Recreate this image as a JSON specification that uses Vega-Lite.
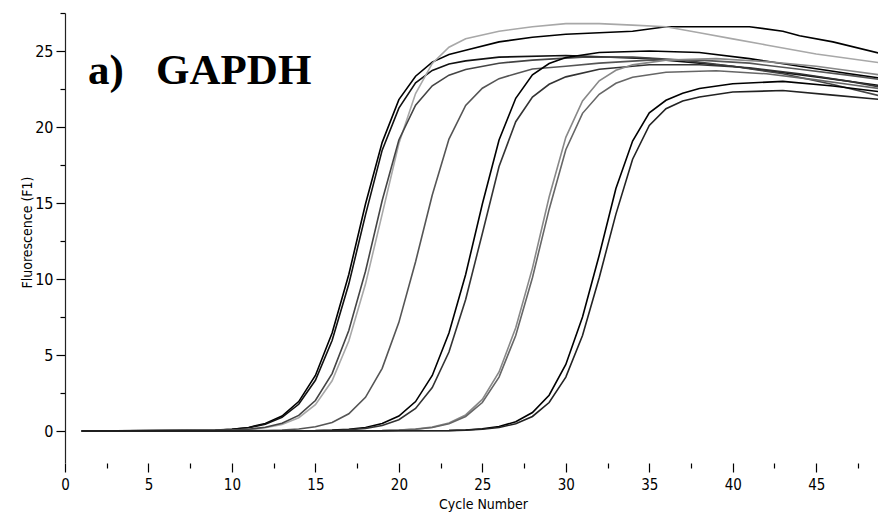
{
  "$schema": "https://vega.github.io/schema/vega-lite/v6.json",
  "width": 813,
  "height": 450,
  "autosize": {"type": "none"},
  "padding": {"left": 65, "top": 13, "right": 0, "bottom": 51},
  "background": "white",
  "config": {"view": {"stroke": null}},
  "layer": [
    {
      "data": {"values": [
        {"s":"A1","c":1,"f":0},{"s":"A1","c":9,"f":0.06},{"s":"A1","c":10,"f":0.12},{"s":"A1","c":11,"f":0.24},{"s":"A1","c":12,"f":0.5},{"s":"A1","c":13,"f":0.99},{"s":"A1","c":14,"f":1.94},{"s":"A1","c":15,"f":3.66},{"s":"A1","c":16,"f":6.45},{"s":"A1","c":17,"f":10.3},{"s":"A1","c":18,"f":14.94},{"s":"A1","c":19,"f":18.99},{"s":"A1","c":20,"f":21.8},{"s":"A1","c":21,"f":23.34},{"s":"A1","c":22,"f":24.27},{"s":"A1","c":23,"f":24.77},{"s":"A1","c":24,"f":25.05},{"s":"A1","c":26,"f":25.6},{"s":"A1","c":28,"f":25.9},{"s":"A1","c":30,"f":26.1},{"s":"A1","c":32,"f":26.2},{"s":"A1","c":34,"f":26.3},{"s":"A1","c":36,"f":26.6},{"s":"A1","c":38,"f":26.6},{"s":"A1","c":41,"f":26.6},{"s":"A1","c":43,"f":26.3},{"s":"A1","c":44,"f":26.0},{"s":"A1","c":46,"f":25.6},{"s":"A1","c":49,"f":24.8},
        {"s":"A2","c":1,"f":0},{"s":"A2","c":9,"f":0.05},{"s":"A2","c":10,"f":0.11},{"s":"A2","c":11,"f":0.22},{"s":"A2","c":12,"f":0.45},{"s":"A2","c":13,"f":0.9},{"s":"A2","c":14,"f":1.76},{"s":"A2","c":15,"f":3.34},{"s":"A2","c":16,"f":5.96},{"s":"A2","c":17,"f":9.67},{"s":"A2","c":18,"f":14.22},{"s":"A2","c":19,"f":18.48},{"s":"A2","c":20,"f":21.24},{"s":"A2","c":21,"f":22.91},{"s":"A2","c":22,"f":23.72},{"s":"A2","c":23,"f":24.14},{"s":"A2","c":24,"f":24.35},{"s":"A2","c":26,"f":24.6},{"s":"A2","c":30,"f":24.7},{"s":"A2","c":35,"f":24.5},{"s":"A2","c":40,"f":24.0},{"s":"A2","c":45,"f":23.3},{"s":"A2","c":49,"f":22.7},
        {"s":"A3","c":1,"f":0},{"s":"A3","c":10,"f":0.05},{"s":"A3","c":11,"f":0.11},{"s":"A3","c":12,"f":0.22},{"s":"A3","c":13,"f":0.44},{"s":"A3","c":14,"f":0.88},{"s":"A3","c":15,"f":1.74},{"s":"A3","c":16,"f":3.31},{"s":"A3","c":17,"f":5.92},{"s":"A3","c":18,"f":9.67},{"s":"A3","c":19,"f":14.27},{"s":"A3","c":20,"f":18.91},{"s":"A3","c":21,"f":22.2},{"s":"A3","c":22,"f":24.18},{"s":"A3","c":23,"f":25.25},{"s":"A3","c":24,"f":25.81},{"s":"A3","c":26,"f":26.3},{"s":"A3","c":28,"f":26.6},{"s":"A3","c":30,"f":26.8},{"s":"A3","c":32,"f":26.8},{"s":"A3","c":34,"f":26.7},{"s":"A3","c":36,"f":26.6},{"s":"A3","c":38,"f":26.2},{"s":"A3","c":40,"f":25.8},{"s":"A3","c":42,"f":25.4},{"s":"A3","c":45,"f":24.8},{"s":"A3","c":49,"f":24.2},
        {"s":"A4","c":1,"f":0},{"s":"A4","c":10,"f":0.06},{"s":"A4","c":11,"f":0.12},{"s":"A4","c":12,"f":0.25},{"s":"A4","c":13,"f":0.52},{"s":"A4","c":14,"f":1.03},{"s":"A4","c":15,"f":2.01},{"s":"A4","c":16,"f":3.78},{"s":"A4","c":17,"f":6.62},{"s":"A4","c":18,"f":10.51},{"s":"A4","c":19,"f":15.17},{"s":"A4","c":20,"f":19.15},{"s":"A4","c":21,"f":21.44},{"s":"A4","c":22,"f":22.71},{"s":"A4","c":23,"f":23.41},{"s":"A4","c":24,"f":23.78},{"s":"A4","c":26,"f":24.2},{"s":"A4","c":28,"f":24.4},{"s":"A4","c":31,"f":24.6},{"s":"A4","c":34,"f":24.6},{"s":"A4","c":37,"f":24.4},{"s":"A4","c":40,"f":24.0},{"s":"A4","c":43,"f":23.5},{"s":"A4","c":46,"f":22.8},{"s":"A4","c":49,"f":22.0},
        {"s":"B","c":1,"f":0},{"s":"B","c":12,"f":0.03},{"s":"B","c":13,"f":0.07},{"s":"B","c":14,"f":0.14},{"s":"B","c":15,"f":0.28},{"s":"B","c":16,"f":0.57},{"s":"B","c":17,"f":1.14},{"s":"B","c":18,"f":2.22},{"s":"B","c":19,"f":4.13},{"s":"B","c":20,"f":7.15},{"s":"B","c":21,"f":11.14},{"s":"B","c":22,"f":15.53},{"s":"B","c":23,"f":19.21},{"s":"B","c":24,"f":21.42},{"s":"B","c":25,"f":22.55},{"s":"B","c":26,"f":23.18},{"s":"B","c":27,"f":23.51},{"s":"B","c":28,"f":23.82},{"s":"B","c":30,"f":24.0},{"s":"B","c":32,"f":24.2},{"s":"B","c":35,"f":24.4},{"s":"B","c":38,"f":24.4},{"s":"B","c":41,"f":24.2},{"s":"B","c":44,"f":23.8},{"s":"B","c":47,"f":23.4},{"s":"B","c":49,"f":23.1},
        {"s":"C1","c":1,"f":0},{"s":"C1","c":15,"f":0.03},{"s":"C1","c":16,"f":0.06},{"s":"C1","c":17,"f":0.12},{"s":"C1","c":18,"f":0.24},{"s":"C1","c":19,"f":0.5},{"s":"C1","c":20,"f":0.99},{"s":"C1","c":21,"f":1.94},{"s":"C1","c":22,"f":3.66},{"s":"C1","c":23,"f":6.45},{"s":"C1","c":24,"f":10.3},{"s":"C1","c":25,"f":14.94},{"s":"C1","c":26,"f":19.15},{"s":"C1","c":27,"f":21.89},{"s":"C1","c":28,"f":23.43},{"s":"C1","c":29,"f":24.18},{"s":"C1","c":30,"f":24.57},{"s":"C1","c":32,"f":24.9},{"s":"C1","c":35,"f":25.0},{"s":"C1","c":38,"f":24.9},{"s":"C1","c":41,"f":24.5},{"s":"C1","c":44,"f":24.0},{"s":"C1","c":47,"f":23.5},{"s":"C1","c":49,"f":23.2},
        {"s":"C2","c":1,"f":0},{"s":"C2","c":15,"f":0.02},{"s":"C2","c":16,"f":0.04},{"s":"C2","c":17,"f":0.09},{"s":"C2","c":18,"f":0.18},{"s":"C2","c":19,"f":0.37},{"s":"C2","c":20,"f":0.75},{"s":"C2","c":21,"f":1.49},{"s":"C2","c":22,"f":2.86},{"s":"C2","c":23,"f":5.2},{"s":"C2","c":24,"f":8.66},{"s":"C2","c":25,"f":13.0},{"s":"C2","c":26,"f":17.4},{"s":"C2","c":27,"f":20.35},{"s":"C2","c":28,"f":21.97},{"s":"C2","c":29,"f":22.81},{"s":"C2","c":30,"f":23.3},{"s":"C2","c":32,"f":23.8},{"s":"C2","c":35,"f":24.1},{"s":"C2","c":38,"f":24.1},{"s":"C2","c":41,"f":23.9},{"s":"C2","c":44,"f":23.5},{"s":"C2","c":47,"f":23.0},{"s":"C2","c":49,"f":22.6},
        {"s":"D1","c":1,"f":0},{"s":"D1","c":19,"f":0.03},{"s":"D1","c":20,"f":0.06},{"s":"D1","c":21,"f":0.13},{"s":"D1","c":22,"f":0.26},{"s":"D1","c":23,"f":0.53},{"s":"D1","c":24,"f":1.06},{"s":"D1","c":25,"f":2.08},{"s":"D1","c":26,"f":3.89},{"s":"D1","c":27,"f":6.8},{"s":"D1","c":28,"f":10.72},{"s":"D1","c":29,"f":15.4},{"s":"D1","c":30,"f":19.32},{"s":"D1","c":31,"f":21.71},{"s":"D1","c":32,"f":23.04},{"s":"D1","c":33,"f":23.73},{"s":"D1","c":34,"f":24.09},{"s":"D1","c":36,"f":24.4},{"s":"D1","c":39,"f":24.5},{"s":"D1","c":42,"f":24.3},{"s":"D1","c":45,"f":24.0},{"s":"D1","c":47,"f":23.7},{"s":"D1","c":49,"f":23.4},
        {"s":"D2","c":1,"f":0},{"s":"D2","c":19,"f":0.03},{"s":"D2","c":20,"f":0.06},{"s":"D2","c":21,"f":0.12},{"s":"D2","c":22,"f":0.24},{"s":"D2","c":23,"f":0.48},{"s":"D2","c":24,"f":0.96},{"s":"D2","c":25,"f":1.88},{"s":"D2","c":26,"f":3.55},{"s":"D2","c":27,"f":6.29},{"s":"D2","c":28,"f":10.09},{"s":"D2","c":29,"f":14.58},{"s":"D2","c":30,"f":18.51},{"s":"D2","c":31,"f":20.9},{"s":"D2","c":32,"f":22.15},{"s":"D2","c":33,"f":22.88},{"s":"D2","c":34,"f":23.27},{"s":"D2","c":36,"f":23.6},{"s":"D2","c":39,"f":23.7},{"s":"D2","c":42,"f":23.5},{"s":"D2","c":45,"f":23.1},{"s":"D2","c":47,"f":22.8},{"s":"D2","c":49,"f":22.5},
        {"s":"E1","c":1,"f":0},{"s":"E1","c":23,"f":0.04},{"s":"E1","c":24,"f":0.07},{"s":"E1","c":25,"f":0.15},{"s":"E1","c":26,"f":0.3},{"s":"E1","c":27,"f":0.61},{"s":"E1","c":28,"f":1.22},{"s":"E1","c":29,"f":2.36},{"s":"E1","c":30,"f":4.38},{"s":"E1","c":31,"f":7.51},{"s":"E1","c":32,"f":11.57},{"s":"E1","c":33,"f":15.96},{"s":"E1","c":34,"f":19.08},{"s":"E1","c":35,"f":20.93},{"s":"E1","c":36,"f":21.76},{"s":"E1","c":37,"f":22.22},{"s":"E1","c":38,"f":22.53},{"s":"E1","c":40,"f":22.85},{"s":"E1","c":43,"f":23.0},{"s":"E1","c":46,"f":22.7},{"s":"E1","c":49,"f":22.3},
        {"s":"E2","c":1,"f":0},{"s":"E2","c":23,"f":0.03},{"s":"E2","c":24,"f":0.06},{"s":"E2","c":25,"f":0.12},{"s":"E2","c":26,"f":0.24},{"s":"E2","c":27,"f":0.48},{"s":"E2","c":28,"f":0.96},{"s":"E2","c":29,"f":1.88},{"s":"E2","c":30,"f":3.55},{"s":"E2","c":31,"f":6.29},{"s":"E2","c":32,"f":10.09},{"s":"E2","c":33,"f":14.27},{"s":"E2","c":34,"f":17.88},{"s":"E2","c":35,"f":20.1},{"s":"E2","c":36,"f":21.2},{"s":"E2","c":37,"f":21.71},{"s":"E2","c":38,"f":21.98},{"s":"E2","c":40,"f":22.3},{"s":"E2","c":43,"f":22.4},{"s":"E2","c":46,"f":22.1},{"s":"E2","c":49,"f":21.8}
      ]},
      "mark": {"type": "line", "clip": true, "strokeWidth": 1.6},
      "encoding": {
        "x": {
          "field": "c", "type": "quantitative",
          "scale": {"domain": [0, 48.7], "nice": false, "zero": false},
          "axis": {
            "values": [0,2.5,5,7.5,10,12.5,15,17.5,20,22.5,25,27.5,30,32.5,35,37.5,40,42.5,45,47.5],
            "domain": false, "grid": false,
            "tickColor": "black", "tickWidth": 1.2,
            "tickSize": {"condition": {"test": "datum.value % 5 === 0", "value": 9}, "value": 5},
            "labelExpr": "datum.value % 5 === 0 ? datum.label : ''",
            "labelFlush": false, "labelOverlap": false,
            "labelFont": "DejaVu Sans Condensed, Liberation Sans, sans-serif",
            "labelFontSize": 15, "labelColor": "black", "labelPadding": 5,
            "title": "Cycle Number",
            "titleFont": "DejaVu Sans Condensed, Liberation Sans, sans-serif",
            "titleFontSize": 14, "titleFontWeight": "normal", "titleColor": "black",
            "titleX": 418, "titleY": 45, "titleBaseline": "alphabetic", "titleAlign": "center"
          }
        },
        "y": {
          "field": "f", "type": "quantitative",
          "scale": {"domain": [-2.1, 27.5], "nice": false, "zero": false},
          "axis": {
            "values": [0,2.5,5,7.5,10,12.5,15,17.5,20,22.5,25,27.5],
            "domain": true, "domainColor": "#222", "domainWidth": 1.2, "grid": false,
            "tickColor": "black", "tickWidth": 1.2,
            "tickSize": {"condition": {"test": "datum.value % 5 === 0", "value": 9}, "value": 5},
            "labelExpr": "datum.value % 5 === 0 ? datum.label : ''",
            "labelFlush": false, "labelOverlap": false,
            "labelFont": "DejaVu Sans Condensed, Liberation Sans, sans-serif",
            "labelFontSize": 16, "labelColor": "black", "labelPadding": 3,
            "title": "Fluorescence (F1)",
            "titleFont": "DejaVu Sans Condensed, Liberation Sans, sans-serif",
            "titleFontSize": 14, "titleFontWeight": "normal", "titleColor": "black",
            "titleX": -38, "titleY": 219, "titleAngle": 270, "titleBaseline": "middle", "titleAlign": "center"
          }
        },
        "color": {
          "field": "s", "type": "nominal",
          "scale": {
            "domain": ["A1","A2","A3","A4","B","C1","C2","D1","D2","E1","E2"],
            "range": ["#000000","#111111","#a8a8a8","#444444","#555555","#000000","#333333","#888888","#666666","#000000","#222222"]
          },
          "legend": null
        },
        "order": {"field": "c", "type": "quantitative"}
      }
    },
    {
      "data": {"values": [{"t": "a)\u00a0\u00a0\u00a0GAPDH"}]},
      "mark": {"type": "text", "font": "Liberation Serif", "fontWeight": "bold", "fontSize": 43, "align": "left", "baseline": "alphabetic", "color": "black"},
      "encoding": {
        "x": {"datum": 1.38, "type": "quantitative"},
        "y": {"datum": 22.82, "type": "quantitative"},
        "text": {"field": "t"}
      }
    }
  ]
}
